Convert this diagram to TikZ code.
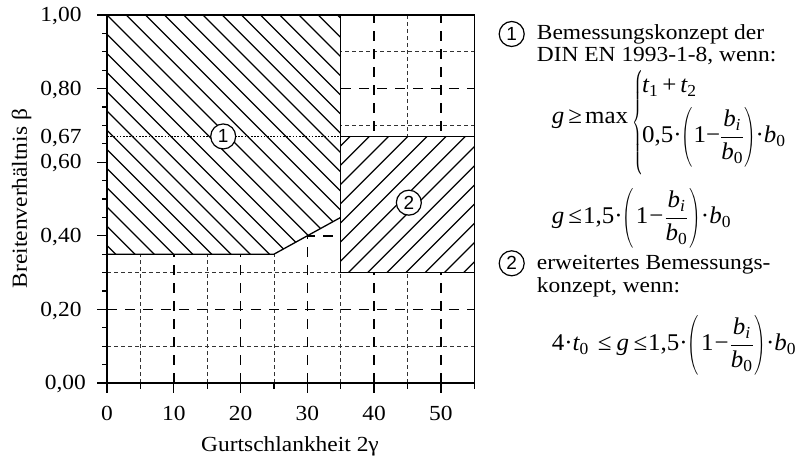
\RequirePackage{fix-cm}
\documentclass[tikz,border=0pt]{standalone}
\usepackage{amsmath}
\usepackage{graphicx}
\usepackage{fontspec}
\setmainfont{Liberation Serif}[FakeStretch=1.09]
\newfontfamily\circfont{Liberation Sans}
\newfontfamily\mtf{Liberation Serif}[FakeStretch=1.04]
\newcommand{\mi}[1]{\text{\mtf\itshape #1}}
\newcommand{\tn}[1]{\text{\mtf\upshape #1}}
\newcommand{\lp}{\vcenter{\hbox{\scalebox{0.62}[1]{$\left(\vcenter{\hrule height 62pt width 0pt}\right.\kern-1.2pt$}}}}
\newcommand{\rp}{\vcenter{\hbox{\scalebox{0.62}[1]{$\kern-1.2pt\left.\vcenter{\hrule height 62pt width 0pt}\right)$}}}}
\newcommand{\bfrac}{\dfrac{\mi{b}_{\mi{i}}}{\mi{b}_{\tn{0}}}}
\begin{document}
\begin{tikzpicture}[x=1pt,y=-1pt,
  txt/.style={font=\fontsize{21.5}{22.3}\selectfont, inner sep=0pt},
  mathtxt/.style={font=\fontsize{24}{26}\selectfont, inner sep=0pt},
  circ/.style={draw, circle, fill=white, line width=1.2pt, minimum size=25pt, inner sep=0pt, font=\circfont\fontsize{19}{19}\selectfont},
  frame/.style={line width=1.3pt},
  hatchline/.style={line width=1.25pt},
  majorgrid/.style={line width=1.6pt, dash pattern=on 10pt off 8pt},
  minorgrid/.style={line width=0.9pt, black!80, dash pattern=on 4pt off 3pt},
  dotline/.style={line width=1.3pt, dash pattern=on 1.5pt off 1.7pt}]
\useasboundingbox (0,0) rectangle (796,457);
\fill[white] (0,0) rectangle (796,457);

\begin{scope}[shift={(107,383)}, x=6.678pt, y=368pt]
  % grid
  \foreach \gx in {5,15,25,35,45} \draw[minorgrid] (\gx,0) -- (\gx,1);
  \foreach \gy in {0.1,0.3,0.5,0.7,0.9} \draw[minorgrid] (0,\gy) -- (55,\gy);
  \foreach \gx in {10,20,30,40,50} \draw[majorgrid] (\gx,0) -- (\gx,1);
  \foreach \gy in {0.2,0.4,0.6,0.8} \draw[majorgrid] (0,\gy) -- (55,\gy);
  % masks for the regions
  \fill[white] (0,1) -- (35,1) -- (35,0.45) -- (25,0.35) -- (0,0.35) -- cycle;
  \fill[white] (35,0.3) rectangle (55,0.67);
\end{scope}

% hatching of region 1
\begin{scope}
  \clip (107,15) -- (340.7,15) -- (340.7,217.4) -- (273.9,254.2) -- (107,254.2) -- cycle;
  \foreach \k in {-15,...,15} \draw[hatchline] ({92+19.2*\k},0) -- ({92+19.2*\k+320},320);
\end{scope}
% hatching of region 2
\begin{scope}
  \clip (340.7,136.4) rectangle (474.3,272.7);
  \foreach \k in {-12,...,6} \draw[hatchline] ({659.4+19.2*\k},0) -- ({659.4+19.2*\k-320},320);
\end{scope}

\begin{scope}[shift={(107,383)}, x=6.678pt, y=368pt]
  % dotted line 0.67
  \draw[dotline] (0,0.67) -- (35,0.67);
  % region outlines
  \draw[frame] (0,0.35) -- (25,0.35) -- (35,0.45);
  \draw[frame] (35,0.3) -- (35,1);
  \draw[frame] (35,0.3) -- (55,0.3);
  \draw[frame] (35,0.67) -- (55,0.67);
  % frame
  \draw[frame] (0,0) -- (55,0) -- (55,1) -- (0,1) -- cycle;
  % ticks
  \foreach \gx in {0,10,20,30,40,50} \draw[frame] (\gx,0) -- ++(0pt,-10pt);
  \foreach \gx in {5,15,25,35,45,55} \draw[frame] (\gx,0) -- ++(0pt,-5.5pt);
  \foreach \gy in {0,0.2,0.4,0.6,0.8,1} \draw[frame] (0,\gy) -- ++(-10pt,0pt);
  \foreach \gy in {0.05,0.1,0.15,0.25,0.3,0.35,0.45,0.5,0.55,0.65,0.7,0.75,0.85,0.9,0.95} \draw[frame] (0,\gy) -- ++(-5.5pt,0pt);
  % tick labels
  \foreach \gx in {0,10,20,30,40,50}
    \path (\gx,0) ++(0pt,-37pt) node[txt, anchor=base] (xl\gx) {\gx};
  \path (0,0) ++(-21pt,-6.7pt) node[txt, anchor=base east] (yl0) {0,00};
  \path (0,0.2) ++(-25.3pt,-6.7pt) node[txt, anchor=base east] (yl2) {0,20};
  \path (0,0.4) ++(-25.3pt,-6.7pt) node[txt, anchor=base east] (yl4) {0,40};
  \path (0,0.6) ++(-25.3pt,-6.7pt) node[txt, anchor=base east] (yl6) {0,60};
  \path (0,0.67) ++(-25.3pt,-6.7pt) node[txt, anchor=base east] (yl67) {0,67};
  \path (0,0.8) ++(-25.3pt,-6.7pt) node[txt, anchor=base east] (yl8) {0,80};
  \path (0,1) ++(-25.3pt,-6.7pt) node[txt, anchor=base east] (yl10) {1,00};
  % region labels
  \node[circ] (r1) at (17.4,0.67) {1};
  \node[circ] (r2) at (45.2,0.49) {2};
\end{scope}

% axis titles
\node[txt, rotate=90, anchor=base] (ylab) at (27,198.5) {Breitenverhältnis β};
\node[txt, anchor=base] (xlab) at (290,451) {Gurtschlankheit 2γ};

% legend 1
\node[circ] (n1) at (511.7,34) {1};
\node[txt, anchor=base west] (t1a) at (536.7,39.3) {Bemessungskonzept der};
\node[txt, anchor=base west] (t1b) at (536.7,61.7) {DIN EN 1993-1-8, wenn:};
\node[mathtxt, anchor=base west] (f1a) at (551.7,123.3) {$\mi{g}\kern4pt\tn{≥}\kern3pt\tn{max}$};
\node[mathtxt, anchor=west] (f1b) at (632,122.5) {\scalebox{0.5}[1]{$\left\{\vcenter{\hrule height 97pt width 0pt}\right.$}};
\node[mathtxt, anchor=base west] (f1c) at (642,93) {$\mi{t}_{\tn{1}}\kern4pt\tn{+}\kern4pt\mi{t}_{\tn{2}}$};
\node[mathtxt, anchor=base west] (f1d) at (642,143) {$\tn{0,5}\tn{·}\lp\kern0.5pt\tn{1}\tn{−}\bfrac\rp\tn{·}\mi{b}_{\tn{0}}$};
% formula 2
\node[mathtxt, anchor=base west] (f2) at (551.7,224) {$\mi{g}\kern4pt\tn{≤}\kern1pt\tn{1,5}\tn{·}\lp\kern2pt\tn{1}\kern1pt\tn{−}\kern1pt\bfrac\kern1pt\rp\tn{·}\mi{b}_{\tn{0}}$};
% legend 2
\node[circ] (n2) at (511.7,263.3) {2};
\node[txt, anchor=base west] (t2a) at (536.7,270) {erweitertes Bemessungs-};
\node[txt, anchor=base west] (t2b) at (536.7,292.3) {konzept, wenn:};
\node[mathtxt, anchor=base west] (f3) at (551.7,351) {$\tn{4}\tn{·}\mi{t}_{\tn{0}}\kern9pt\tn{≤}\kern5pt\mi{g}\kern4.5pt\tn{≤}\kern1pt\tn{1,5}\tn{·}\lp\kern2pt\tn{1}\kern1pt\tn{−}\kern1pt\bfrac\kern1pt\rp\tn{·}\mi{b}_{\tn{0}}$};
\end{tikzpicture}
\end{document}
